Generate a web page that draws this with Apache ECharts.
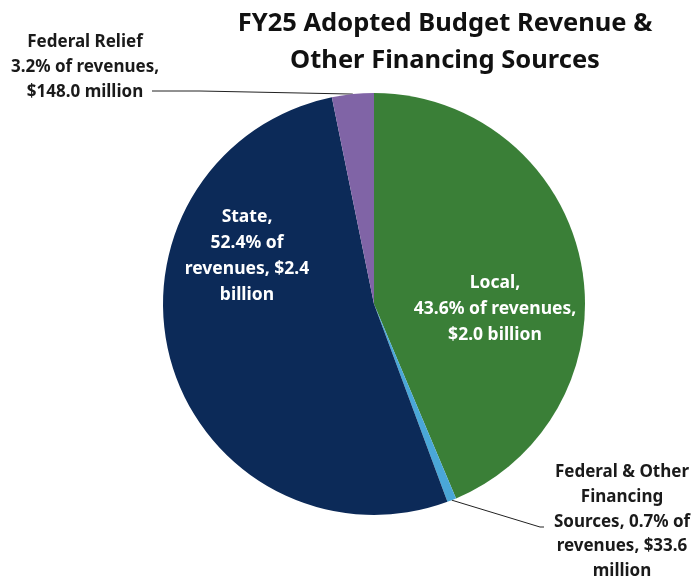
<!DOCTYPE html>
<html>
<head>
<meta charset="utf-8">
<script src="https://cdn.jsdelivr.net/npm/echarts@6/dist/echarts.min.js"></script>
<style>
  html, body { margin: 0; padding: 0; background: #fff; }
  #main { width: 697px; height: 584px; }
</style>
</head>
<body>
<div id="main"></div>
<script>
// 收入来源
var names = ['Local', 'Federal & Other Financing Sources', 'State', 'Federal Relief'];
var shares = [43.6, 0.7, 52.4, 3.2];
var labels = [
    'Local,\n43.6% of revenues,\n$2.0 billion',
    'Federal & Other\nFinancing\nSources, 0.7% of\nrevenues, $33.6\nmillion',
    'State,\n52.4% of\nrevenues, $2.4\nbillion',
    'Federal Relief\n3.2% of revenues,\n$148.0 million'
];
var colors = ['#3a7f37', '#4aa7d8', '#0c2a58', '#8064a6'];

var font = '"Noto Sans", sans-serif';

var chart = echarts.init(document.getElementById('main'));

var data = [];
for (var i = 0; i < names.length; i++) {
    var inside = (i == 0 || i == 2);
    data.push({
        name: names[i],
        value: shares[i],
        itemStyle: { color: colors[i] },
        label: {
            position: inside ? 'inside' : 'outside',
            color: inside ? '#fff' : '#1a1a1a',
            fontSize: inside ? 17.5 : 17,
            lineHeight: inside ? 26 : 24.7
        },
        labelLine: { show: !inside }
    });
}

// label positions (label center x, top y)
var labelPos = [
    { x: 495, y: 270 },
    { x: 622, y: 460 },
    { x: 247, y: 204 },
    { x: 85, y: 30 }
];

var option = {
    backgroundColor: '#fff',
    title: {
        text: 'FY25 Adopted Budget Revenue &\nOther Financing Sources',
        left: 440,
        top: 0,
        textAlign: 'center',
        textStyle: {
            fontFamily: font,
            fontWeight: 'bold',
            fontSize: 25.5,
            lineHeight: 37,
            color: '#111'
        }
    },
    series: [{
        type: 'pie',
        center: [374, 304],
        radius: 211,
        startAngle: 90,
        clockwise: true,
        avoidLabelOverlap: false,
        animation: false,
        data: data,
        label: {
            formatter: function (p) { return labels[p.dataIndex]; },
            fontFamily: font,
            fontWeight: 'bold',
            align: 'center'
        },
        labelLine: {
            lineStyle: { color: '#222', width: 1 }
        },
        labelLayout: function (params) {
            var i = params.dataIndex;
            var pos = labelPos[i];
            var res = {
                x: pos.x,
                y: pos.y,
                align: 'center',
                verticalAlign: 'top'
            };
            if (params.labelLinePoints) {
                var p0 = params.labelLinePoints[0];
                if (i == 3) {
                    res.labelLinePoints = [p0, [200, 91], [152, 91]];
                } else if (i == 1) {
                    res.labelLinePoints = [p0, [540, 527], [544, 527]];
                }
            }
            return res;
        }
    }]
};

chart.setOption(option);
window.onresize = chart.resize;
</script>
</body>
</html>
